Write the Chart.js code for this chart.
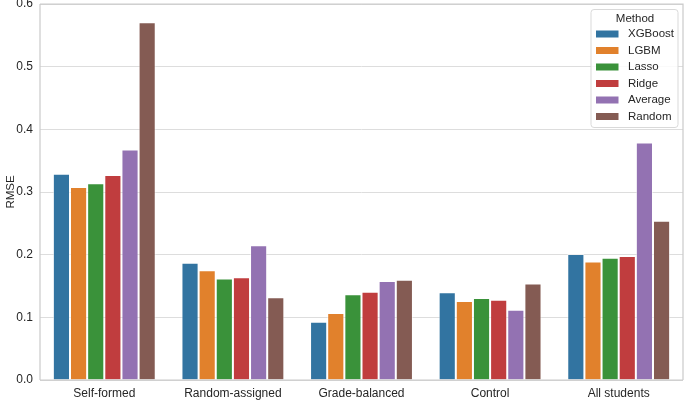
<!DOCTYPE html>
<html>
<head>
<meta charset="utf-8">
<script src="https://cdn.jsdelivr.net/npm/chart.js@4/dist/chart.umd.min.js"></script>
<style>
  html, body { margin: 0; padding: 0; background: #fff; }
  #wrap { width: 685px; height: 400px; }
</style>
</head>
<body>
<div id="wrap"><canvas id="c" width="685" height="400"></canvas></div>
<script>
const categories = ["Self-formed", "Random-assigned", "Grade-balanced", "Control", "All students"];
const methods = ["XGBoost", "LGBM", "Lasso", "Ridge", "Average", "Random"];
const xgboost = [0.329, 0.187, 0.093, 0.140, 0.201];
const lgbm    = [0.308, 0.175, 0.107, 0.126, 0.189];
const lasso   = [0.314, 0.162, 0.137, 0.131, 0.195];
const ridge   = [0.327, 0.164, 0.141, 0.128, 0.198];
const average = [0.368, 0.215, 0.158, 0.112, 0.379];
const random  = [0.571, 0.132, 0.160, 0.154, 0.254];
const yTicks = [0.0, 0.1, 0.2, 0.3, 0.4, 0.5, 0.6];
const colors = ["#3274a1", "#e1812c", "#3a923a", "#c03d3e", "#9372b2", "#845b53"];

const seriesValues = [xgboost, lgbm, lasso, ridge, average, random];
const FONT = "'Liberation Sans', Arial, sans-serif";
const TXT = "#262626";

const datasets = methods.map((m, i) => ({
  label: m,
  data: seriesValues[i],
  backgroundColor: colors[i],
  borderColor: "rgba(255,255,255,0.55)",
  borderWidth: 1,
  categoryPercentage: 0.8,
  barPercentage: 1.0
}));

const framePlugin = {
  id: "frame",
  afterDatasetsDraw(chart) {
    const { ctx, chartArea: a } = chart;
    ctx.save();
    ctx.strokeStyle = "#cccccc";
    ctx.lineWidth = 1.25;
    ctx.beginPath();
    ctx.moveTo(a.left, a.top);
    ctx.lineTo(a.right, a.top);
    ctx.lineTo(a.right, a.bottom);
    ctx.moveTo(a.left, a.bottom);
    ctx.lineTo(a.right, a.bottom);
    ctx.moveTo(a.left, a.top);
    ctx.lineTo(a.left, a.bottom);
    ctx.stroke();
    ctx.restore();
  }
};

const legendPlugin = {
  id: "boxLegend",
  afterDraw(chart) {
    const { ctx } = chart;
    const ds = chart.data.datasets;
    const boxL = 591, boxT = 9.5, boxW = 87, rowH = 16.5;
    const boxH = 118;
    ctx.save();
    ctx.fillStyle = "rgba(255,255,255,0.85)";
    ctx.strokeStyle = "#d9d9d9";
    ctx.lineWidth = 1;
    const r = 3;
    ctx.beginPath();
    ctx.moveTo(boxL + r, boxT);
    ctx.lineTo(boxL + boxW - r, boxT);
    ctx.quadraticCurveTo(boxL + boxW, boxT, boxL + boxW, boxT + r);
    ctx.lineTo(boxL + boxW, boxT + boxH - r);
    ctx.quadraticCurveTo(boxL + boxW, boxT + boxH, boxL + boxW - r, boxT + boxH);
    ctx.lineTo(boxL + r, boxT + boxH);
    ctx.quadraticCurveTo(boxL, boxT + boxH, boxL, boxT + boxH - r);
    ctx.lineTo(boxL, boxT + r);
    ctx.quadraticCurveTo(boxL, boxT, boxL + r, boxT);
    ctx.closePath();
    ctx.fill();
    ctx.stroke();

    ctx.fillStyle = TXT;
    ctx.font = "11.5px " + FONT;
    ctx.textAlign = "center";
    ctx.textBaseline = "middle";
    ctx.fillText("Method", 635, 18.5);
    ctx.textAlign = "left";
    ds.forEach((d, i) => {
      const y = 34 + i * rowH;
      ctx.fillStyle = d.backgroundColor;
      ctx.fillRect(596, y - 3.5, 22.5, 7);
      ctx.fillStyle = TXT;
      ctx.fillText(d.label, 628, y);
    });
    ctx.restore();
  }
};

new Chart(document.getElementById("c"), {
  type: "bar",
  data: { labels: categories, datasets },
  options: {
    responsive: false,
    animation: false,
    devicePixelRatio: 1,
    layout: { padding: { top: 4, right: 2, left: 0, bottom: 0 } },
    plugins: {
      legend: { display: false },
      tooltip: { enabled: false }
    },
    scales: {
      x: {
        grid: { display: false, drawTicks: false },
        border: { display: false },
        ticks: { color: TXT, font: { family: FONT, size: 12 }, padding: 6 },
        afterFit(s) { s.height = 20; s.paddingLeft = 0; s.paddingRight = 0; }
      },
      y: {
        min: 0, max: 0.6,
        afterBuildTicks(s) { s.ticks = yTicks.map(v => ({ value: v })); },
        grid: { color: "#dddddd", lineWidth: 1, drawTicks: false },
        border: { display: false },
        ticks: {
          color: TXT, font: { family: FONT, size: 12 }, padding: 7,
          callback: v => Number(v).toFixed(1)
        },
        title: { display: true, text: "RMSE", color: TXT, font: { family: FONT, size: 11.5 }, padding: { top: 4, bottom: 0 } },
        afterFit(s) { s.width = 40; s.paddingTop = 0; s.paddingBottom = 0; }
      }
    }
  },
  plugins: [framePlugin, legendPlugin]
});
</script>
</body>
</html>
